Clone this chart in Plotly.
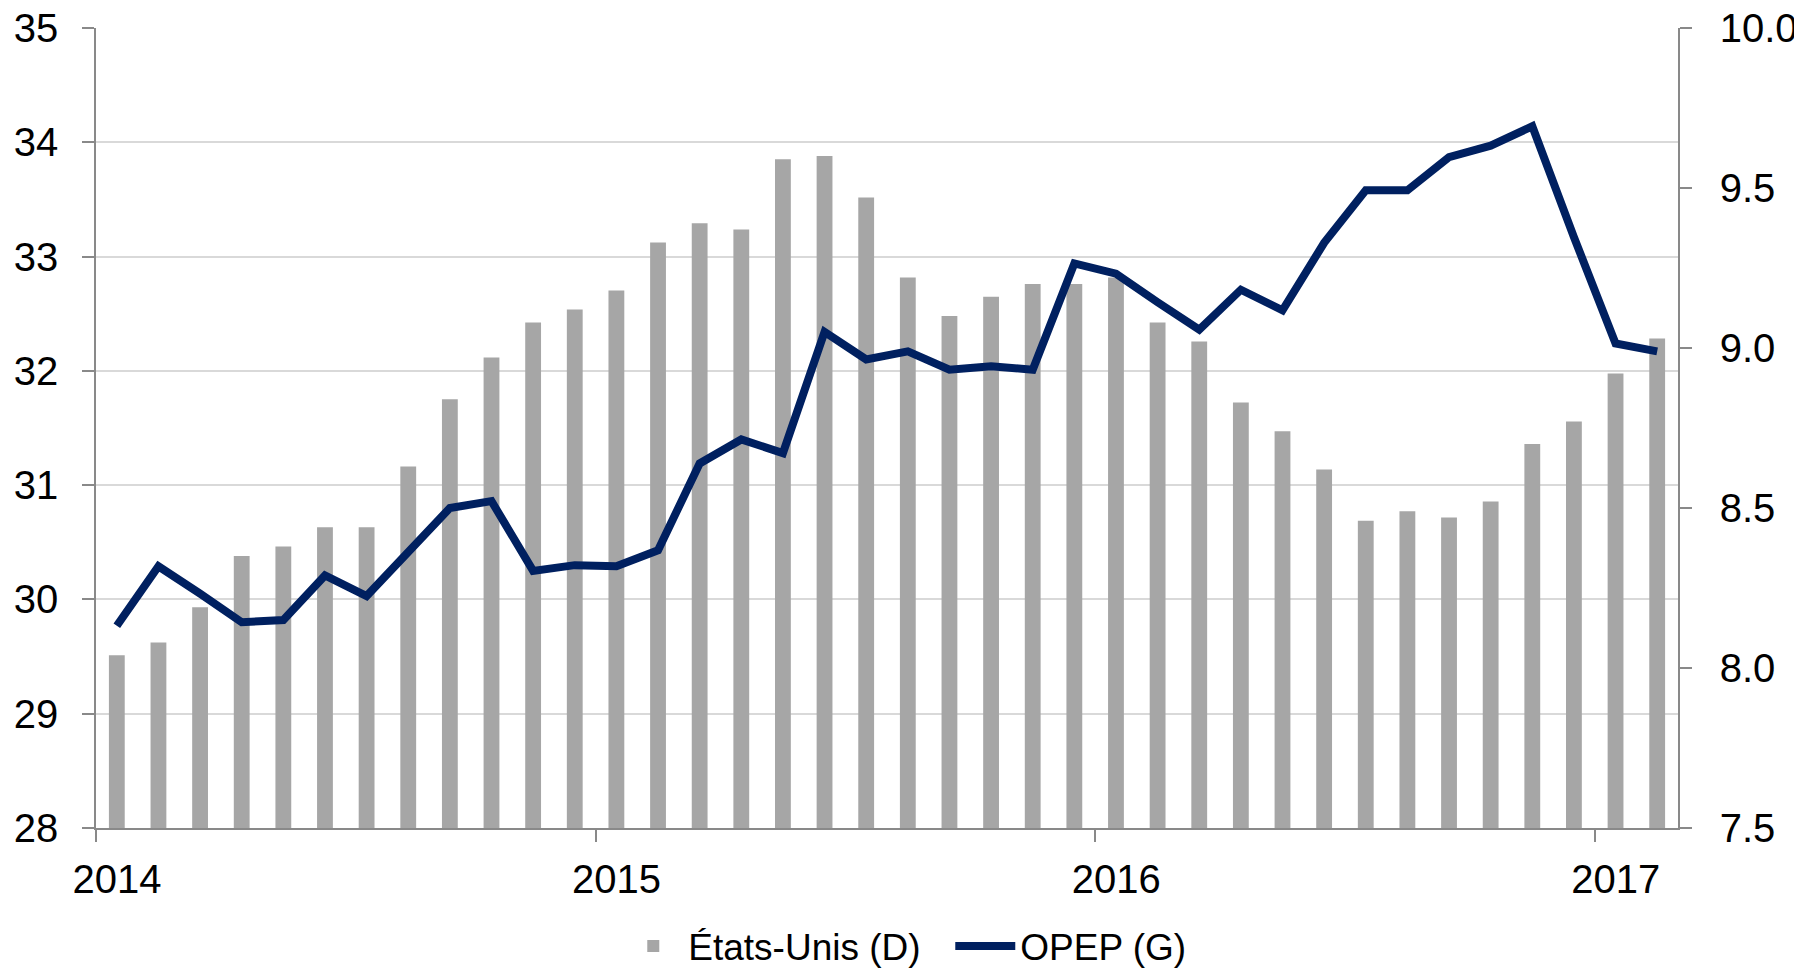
import plotly.graph_objects as go

# ---- data ----
months = [
    "2014-01", "2014-02", "2014-03", "2014-04", "2014-05", "2014-06",
    "2014-07", "2014-08", "2014-09", "2014-10", "2014-11", "2014-12",
    "2015-01", "2015-02", "2015-03", "2015-04", "2015-05", "2015-06",
    "2015-07", "2015-08", "2015-09", "2015-10", "2015-11", "2015-12",
    "2016-01", "2016-02", "2016-03", "2016-04", "2016-05", "2016-06",
    "2016-07", "2016-08", "2016-09", "2016-10", "2016-11", "2016-12",
    "2017-01", "2017-02",
]

# États-Unis, right axis (D)
us_values = [
    8.04, 8.08, 8.19, 8.35, 8.38, 8.44, 8.44, 8.63, 8.84, 8.97, 9.08, 9.12,
    9.18, 9.33, 9.39, 9.37, 9.59, 9.60, 9.47, 9.22, 9.10, 9.16, 9.20, 9.20,
    9.22, 9.08, 9.02, 8.83, 8.74, 8.62, 8.46, 8.49, 8.47, 8.52, 8.70, 8.77,
    8.92, 9.03,
]

# OPEP, left axis (G)
opec_values = [
    29.77, 30.29, 30.05, 29.80, 29.82, 30.21, 30.03, 30.42, 30.80, 30.86, 30.25, 30.30,
    30.29, 30.43, 31.19, 31.40, 31.28, 32.34, 32.10, 32.17, 32.01, 32.04, 32.01, 32.94,
    32.85, 32.60, 32.36, 32.71, 32.53, 33.12, 33.58, 33.58, 33.87, 33.97, 34.14, 33.17,
    32.24, 32.17,
]

year_labels = ["2014", "2015", "2016", "2017"]
left_ticks = [28, 29, 30, 31, 32, 33, 34, 35]
right_ticks = [7.5, 8.0, 8.5, 9.0, 9.5, 10.0]

series_names = ["États-Unis (D)", "OPEP (G)"]

# ---- derived positions ----
xpos = list(range(len(months)))
year_tick_pos = [months.index(y + "-01") - 0.5 for y in year_labels]

FONT = "Liberation Sans, Arial, Helvetica, sans-serif"
GRID = "#D9D9D9"
AXIS = "#898989"

fig = go.Figure()

fig.add_trace(go.Bar(
    x=xpos, y=us_values, name=series_names[0],
    marker=dict(color="#A6A6A6", line=dict(width=0)),
    xaxis="x", yaxis="y",
    hovertext=months,
))

fig.add_trace(go.Scatter(
    x=xpos, y=opec_values, name=series_names[1],
    mode="lines",
    line=dict(color="#002060", width=8),
    xaxis="x", yaxis="y2",
    hovertext=months,
))

# the page body adds an 8 px offset, so the figure is 8 px smaller than the window
fig.update_layout(
    width=1794, height=960,
    margin=dict(l=88, r=124, t=20, b=140, autoexpand=False),
    paper_bgcolor="white", plot_bgcolor="white",
    font=dict(family=FONT, size=40, color="black"),
    bargap=0.62,
    showlegend=True,
    legend=dict(
        orientation="h",
        x=0.540, xanchor="center",
        y=-0.148, yanchor="middle",
        font=dict(size=37, color="black"),
        bgcolor="rgba(0,0,0,0)",
        traceorder="normal",
        itemwidth=60,
        entrywidth=257, entrywidthmode="pixels",
    ),
    xaxis=dict(
        range=[-0.5, len(months) - 0.5],
        tickmode="array",
        tickvals=year_tick_pos,
        ticktext=year_labels,
        ticks="outside", ticklen=12, tickwidth=1.5, tickcolor=AXIS,
        ticklabelshift=21,
        ticklabelstandoff=3,
        ticklabeloverflow="allow",
        showline=True, linecolor=AXIS, linewidth=1.5,
        showgrid=False, zeroline=False,
        tickfont=dict(size=40),
        automargin=False,
    ),
    yaxis=dict(
        side="right",
        range=[7.5, 10.0],
        tickmode="array",
        tickvals=right_ticks,
        tickformat=".1f",
        ticks="outside", ticklen=12, tickwidth=1.5, tickcolor=AXIS,
        ticklabelstandoff=20,
        ticklabeloverflow="allow",
        showline=True, linecolor=AXIS, linewidth=1.5,
        showgrid=False,
        zeroline=False,
        tickfont=dict(size=40),
        automargin=False,
    ),
    yaxis2=dict(
        side="left",
        overlaying="y",
        range=[28, 35],
        tickmode="array",
        tickvals=left_ticks,
        ticks="outside", ticklen=12, tickwidth=1.5, tickcolor=AXIS,
        ticklabelstandoff=16,
        ticklabeloverflow="allow",
        showline=True, linecolor=AXIS, linewidth=1.5,
        showgrid=True, gridcolor=GRID, gridwidth=1.5,
        zeroline=False,
        tickfont=dict(size=40),
        automargin=False,
    ),
)

fig.write_html("out.html")
